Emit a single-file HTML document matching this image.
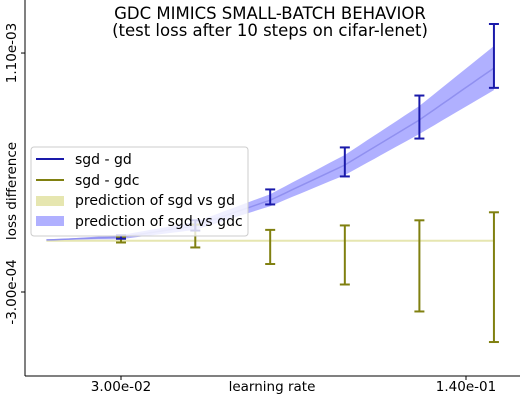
<!DOCTYPE html>
<html><head><meta charset="utf-8"><style>
body{margin:0;background:#fff;font-family:"Liberation Sans","DejaVu Sans",sans-serif}
svg{display:block}
</style></head><body>
<svg id="c" width="526" height="400" font-family="DejaVu Sans, Liberation Sans, sans-serif"></svg>
<script>
const lrs=[0.03,0.0418,0.0584,0.0815,0.1137,0.1586];
const gdMean=[0.22,0.9,2.57,4.62,7.25,10.83];
const gdErr=[0.1,0.3,0.44,0.85,1.26,1.87];
const gdcMean=[0.05,0.28,-0.36,-0.83,-1.47,-2.13];
const gdcErr=[0.15,0.67,1.0,1.73,2.67,3.8];
const bandLr=[0.0215,0.03,0.0418,0.0584,0.0815,0.1137,0.1586];
const bandMean=[0.05,0.22,0.87,2.38,4.44,7.08,10.12];
const bandHalf=[0,0.12,0.23,0.35,0.59,0.82,1.29];
const xTicks=[0.03,0.14];const xTickLabels=["3.00e-02","1.40e-01"];
const yTicks=[11,-3];const yTickLabels=["1.10e-03","-3.00e-04"];
const S="http://www.w3.org/2000/svg",svgC=document.getElementById('c');
const X=v=>121+Math.log(v/0.03)/Math.log(0.14/0.03)*345;
const Y=v=>240.8-v*17.07;
function el(t,a,p){const e=document.createElementNS(S,t);for(const k in a)e.setAttribute(k,a[k]);(p||svgC).appendChild(e);return e;}
function interp(arr,lr){const l=Math.log(lr);for(let i=0;i<bandLr.length-1;i++){const a=Math.log(bandLr[i]),b=Math.log(bandLr[i+1]);if(l<=b){const t=(l-a)/(b-a);return arr[i]+(arr[i+1]-arr[i])*t;}}return arr[arr.length-1];}
const upperPts=[],lowerPts=[],midPts=[];
for(let i=0;i<=60;i++){const lr=Math.exp(Math.log(bandLr[0])+(Math.log(bandLr[6])-Math.log(bandLr[0]))*i/60);const m=interp(bandMean,lr),h=interp(bandHalf,lr);upperPts.push(X(lr).toFixed(1)+','+Y(m+h).toFixed(1));lowerPts.unshift(X(lr).toFixed(1)+','+Y(m-h).toFixed(1));midPts.push(X(lr).toFixed(1)+','+Y(m).toFixed(1));}
const g0=el('line',{x1:X(bandLr[0]),x2:X(bandLr[6]),y1:Y(0),y2:Y(0),stroke:'#e6e6b0','stroke-width':2});


const bp=el('polygon',{points:upperPts.concat(lowerPts).join(' '),fill:'#b0b0ff'});


el('polyline',{points:midPts.join(' '),fill:'none',stroke:'#9090f0','stroke-width':1.5});
function errs(means,es,col,name){for(let i=0;i<lrs.length;i++){const x=X(lrs[i]),g=el('g',{stroke:col,'stroke-width':2});


const y1=Y(means[i]+es[i]),y2=Y(means[i]-es[i]);
el('line',{x1:x,x2:x,y1:y1,y2:y2},g);el('line',{x1:x-5,x2:x+5,y1:y1,y2:y1},g);el('line',{x1:x-5,x2:x+5,y1:y2,y2:y2},g);}}
errs(gdcMean,gdcErr,'#808010','sgd-gdc');
errs(gdMean,gdErr,'#1a1aaa','sgd-gd');
el('line',{x1:25,x2:25,y1:0,y2:376,stroke:'#000','stroke-width':1});
el('line',{x1:25,x2:520,y1:376,y2:376,stroke:'#000','stroke-width':1});
xTicks.forEach((v,i)=>{const x=X(v);el('line',{x1:x,x2:x,y1:376,y2:380,stroke:'#000'});const t=el('text',{x:x,y:391,'text-anchor':'middle','font-size':13.5});t.textContent=xTickLabels[i];

});
yTicks.forEach((v,i)=>{const y=Y(v);el('line',{x1:21,x2:25,y1:y,y2:y,stroke:'#000'});const t=el('text',{x:0,y:0,'text-anchor':'middle','font-size':13.5,transform:`translate(16,${y}) rotate(-90)`});t.textContent=yTickLabels[i];

});
</script>
<svg style="position:absolute;left:0;top:0" width="526" height="400" font-family="DejaVu Sans, Liberation Sans, sans-serif">
<text x="270" y="19" text-anchor="middle" font-size="16.5">GDC MIMICS SMALL-BATCH BEHAVIOR</text>
<text x="270" y="36" text-anchor="middle" font-size="16.5">(test loss after 10 steps on cifar-lenet)</text>
<text x="272" y="391" text-anchor="middle" font-size="13.5">learning rate</text>
<text transform="translate(16,191) rotate(-90)" text-anchor="middle" font-size="13.5">loss difference</text>
<g>
<rect x="31" y="147" width="217" height="89" rx="3" fill="#fff" fill-opacity="0.8" stroke="#ccc"/>
<line x1="36" x2="64" y1="159" y2="159" stroke="#1a1aaa" stroke-width="2"/>
<text x="75" y="164" font-size="14">sgd - gd</text>
<line x1="36" x2="64" y1="180" y2="180" stroke="#808010" stroke-width="2"/>
<text x="75" y="185" font-size="14">sgd - gdc</text>
<rect x="36" y="196" width="28" height="10" fill="#e6e6b0"/>
<text x="75" y="205" font-size="14">prediction of sgd vs gd</text>
<rect x="36" y="216" width="28" height="10" fill="#b0b0ff"/>
<text x="75" y="226" font-size="14">prediction of sgd vs gdc</text>
</g>
</svg>
</body></html>
